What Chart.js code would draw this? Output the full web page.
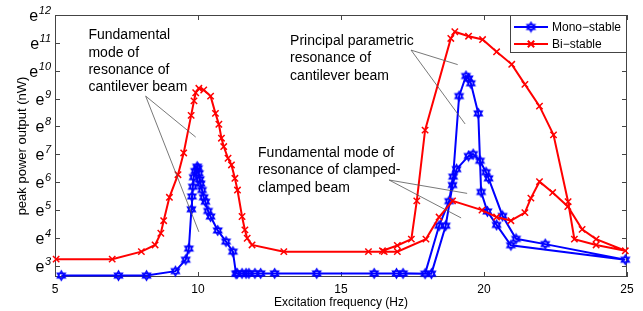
<!DOCTYPE html>
<html>
<head>
<meta charset="utf-8">
<script src="https://cdn.jsdelivr.net/npm/chart.js@4.4.0/dist/chart.umd.min.js"></script>
<style>
  body { margin: 0; background: #fff; }
</style>
</head>
<body>
<canvas id="myChart" width="643" height="311"></canvas>
<script>
// frequency (Hz) and peak power as exponent of e (nW), in sweep order
var mono_Freq = [5.22, 7.22, 8.2, 9.21, 9.57, 9.68, 9.77, 9.79, 9.82, 9.85, 9.9, 9.97, 10.0, 10.03, 10.06, 10.09,
  10.14, 10.2, 10.26, 10.35, 10.44, 10.69, 10.98, 11.22, 11.33, 11.37, 11.54, 11.68, 11.78, 11.99, 12.19, 12.68,
  14.15, 16.16, 16.94, 17.94, 18.43, 18.78, 18.92, 19.13, 19.37, 19.46, 19.54, 19.8, 19.9, 20.12, 20.44, 20.94,
  24.94, 22.14, 21.12, 20.65, 20.16, 20.07, 19.86, 19.62, 19.46, 19.04, 18.9, 18.66, 18.16, 17.17];
var mono_Pow = [2.65, 2.65, 2.65, 2.81, 3.22, 3.62, 5.03, 5.49, 5.84, 6.18, 6.4, 6.56, 6.5, 6.32, 6.1, 5.95,
  5.72, 5.46, 5.3, 4.97, 4.77, 4.27, 3.87, 3.51, 2.72, 2.73, 2.73, 2.73, 2.73, 2.73, 2.73, 2.73,
  2.73, 2.73, 2.73, 2.72, 4.44, 5.32, 6.2, 9.09, 9.81, 9.72, 9.55, 8.47, 5.65, 4.95, 4.47, 3.74,
  3.22, 3.78, 3.97, 4.79, 6.14, 6.36, 6.77, 7.01, 6.94, 6.47, 5.9, 4.44, 2.72, 2.73];

var bi_Freq = [5.04, 7.0, 8.02, 8.5, 8.7, 8.8, 9.0, 9.3, 9.5, 9.76, 9.86, 9.92, 10.03, 10.2, 10.44, 10.61,
  10.73, 10.82, 10.9, 11.05, 11.17, 11.29, 11.38, 11.54, 11.64, 11.72, 11.89, 13.0, 15.96, 16.51, 16.97, 17.97,
  18.43, 18.9, 19.93, 20.44, 20.94, 21.43, 21.64, 21.94, 22.4, 22.93, 23.43, 23.92, 24.94,
  23.92, 23.16, 22.94, 22.43, 21.94, 21.43, 20.97, 20.44, 19.95, 19.46, 18.98, 18.84, 17.94, 17.65, 17.46, 16.97, 16.45];
var bi_Pow = [3.24, 3.24, 3.51, 3.75, 4.17, 4.62, 5.46, 6.27, 7.05, 8.4, 8.92, 9.21, 9.37, 9.31, 9.09, 8.47,
  8.08, 7.58, 7.28, 6.86, 6.62, 6.14, 5.72, 4.77, 4.29, 3.99, 3.75, 3.51, 3.51, 3.51, 3.51, 3.96,
  4.75, 5.33, 5.0, 4.75, 4.62, 4.91, 5.43, 6.02, 5.63, 5.13, 4.31, 3.96, 3.54,
  3.75, 3.96, 5.3, 7.7, 8.73, 9.51, 10.23, 10.68, 11.12, 11.24, 11.4, 11.16, 7.87, 5.33, 3.96, 3.73, 3.54];

var xTicks = [5, 10, 15, 20, 25];
var yTicks = [3, 4, 5, 6, 7, 8, 9, 10, 11, 12];
var seriesNames = ['Mono\u2212stable', 'Bi\u2212stable'];

// callouts: text lines, text anchor and line ends in data units
var notes = [
  { text: ['Fundamental', 'mode of', 'resonance of', 'cantilever beam'], at: [6.17, 11.13],
    from: [8.17, 9.09], to: [[9.92, 7.62], [10.03, 4.22]] },
  { text: ['Principal parametric', 'resonance of', 'cantilever beam'], at: [13.22, 10.92],
    from: [17.45, 10.74], to: [[19.08, 10.22], [19.34, 8.09]] },
  { text: ['Fundamental mode of', 'resonance of clamped-', 'clamped beam'], at: [12.1, 6.9],
    from: [16.68, 6.08], to: [[19.41, 5.6], [19.2, 4.72]] }
];

function toPoints(xs, ys) {
  var out = [];
  for (var i = 0; i < xs.length; i++) out.push({ x: xs[i], y: ys[i] });
  return out;
}

// hexagram marker (two triangles)
function hexagram(color) {
  var c = document.createElement('canvas');
  c.width = 13; c.height = 13;
  var g = c.getContext('2d');
  g.strokeStyle = color;
  g.lineWidth = 1.4;
  var r = 4.6;
  for (var t = 0; t < 2; t++) {
    g.beginPath();
    for (var i = 0; i < 3; i++) {
      var a = -Math.PI / 2 + t * Math.PI + i * 2 * Math.PI / 3;
      var px = 6.5 + r * Math.cos(a), py = 6.5 + r * Math.sin(a);
      if (i == 0) g.moveTo(px, py); else g.lineTo(px, py);
    }
    g.closePath();
    g.stroke();
  }
  return c;
}
var hexMark = hexagram('#0000ff');

var FONT = '"Liberation Sans", Arial, sans-serif';

var framePlugin = {
  id: 'frame',
  beforeDatasetsDraw: function (chart) {
    var ctx = chart.ctx, a = chart.chartArea;
    var xs = chart.scales.x, ys = chart.scales.y;
    ctx.save();
    ctx.strokeStyle = '#444';
    ctx.lineWidth = 1;
    ctx.strokeRect(a.left + 0.5, a.top + 0.5, a.right - a.left - 1, a.bottom - a.top - 1);
    ctx.beginPath();
    xTicks.forEach(function (v) {
      var px = Math.round(xs.getPixelForValue(v)) + 0.5;
      ctx.moveTo(px, a.bottom); ctx.lineTo(px, a.bottom - 5);
      ctx.moveTo(px, a.top); ctx.lineTo(px, a.top + 5);
    });
    yTicks.forEach(function (v) {
      var py = Math.round(ys.getPixelForValue(v)) + 0.5;
      ctx.moveTo(a.left, py); ctx.lineTo(a.left + 5, py);
      ctx.moveTo(a.right, py); ctx.lineTo(a.right - 5, py);
    });
    ctx.stroke();
    ctx.restore();
  },
  afterDraw: function (chart) {
    var ctx = chart.ctx, a = chart.chartArea;
    var xs = chart.scales.x, ys = chart.scales.y;
    ctx.save();
    ctx.fillStyle = '#000';

    // x tick labels
    ctx.font = '12px ' + FONT;
    ctx.textAlign = 'center';
    ctx.textBaseline = 'alphabetic';
    xTicks.forEach(function (v) {
      ctx.fillText(String(v), xs.getPixelForValue(v), a.bottom + 16);
    });

    // y tick labels e^k
    ctx.textAlign = 'left';
    yTicks.forEach(function (v) {
      var py = ys.getPixelForValue(v);
      ctx.font = 'italic 11px ' + FONT;
      var ew = ctx.measureText(String(v)).width;
      ctx.fillText(String(v), a.left - 4 - ew, py - 1);
      ctx.font = '16px ' + FONT;
      var bw = ctx.measureText('e').width;
      ctx.fillText('e', a.left - 4 - ew - bw - 0.5, py + 6);
    });

    // axis titles
    ctx.font = '12px ' + FONT;
    ctx.textAlign = 'center';
    ctx.fillText('Excitation frequency (Hz)', (a.left + a.right) / 2, a.bottom + 29);
    ctx.save();
    ctx.translate(22, (a.top + a.bottom) / 2);
    ctx.rotate(-Math.PI / 2);
    ctx.font = '13px ' + FONT;
    ctx.textBaseline = 'middle';
    ctx.fillText('peak power output (nW)', 0, 0);
    ctx.restore();

    // callouts
    ctx.strokeStyle = '#555';
    ctx.lineWidth = 0.8;
    ctx.font = '14px ' + FONT;
    ctx.textAlign = 'left';
    ctx.textBaseline = 'alphabetic';
    notes.forEach(function (n) {
      var tx = xs.getPixelForValue(n.at[0]), ty = ys.getPixelForValue(n.at[1]);
      n.text.forEach(function (s, i) { ctx.fillText(s, tx, ty + i * 17.3); });
      var fx = xs.getPixelForValue(n.from[0]), fy = ys.getPixelForValue(n.from[1]);
      n.to.forEach(function (t) {
        ctx.beginPath();
        ctx.moveTo(fx, fy);
        ctx.lineTo(xs.getPixelForValue(t[0]), ys.getPixelForValue(t[1]));
        ctx.stroke();
      });
    });

    // legend box
    var lx = a.right - 117, ly = a.top;
    ctx.fillStyle = '#fff';
    ctx.fillRect(lx, ly, 117, 38);
    ctx.strokeStyle = '#444';
    ctx.lineWidth = 1;
    ctx.strokeRect(lx + 0.5, ly + 0.5, 116, 37);
    chart.data.datasets.forEach(function (ds, i) {
      var yy = ly + 12 + i * 17;
      ctx.strokeStyle = ds.borderColor;
      ctx.lineWidth = 2;
      ctx.beginPath();
      ctx.moveTo(lx + 4, yy); ctx.lineTo(lx + 38, yy);
      ctx.stroke();
      Chart.helpers.drawPoint(ctx, {
        pointStyle: ds.pointStyle, radius: ds.pointRadius, rotation: 0,
        borderWidth: ds.pointBorderWidth
      }, lx + 21, yy);
      ctx.fillStyle = '#000';
      ctx.font = '12px ' + FONT;
      ctx.textBaseline = 'middle';
      ctx.fillText(seriesNames[i], lx + 42, yy + 0.5);
    });
    ctx.restore();
  }
};

var ctx = document.getElementById('myChart').getContext('2d');
var myChart = new Chart(ctx, {
  type: 'line',
  data: {
    datasets: [{
      label: seriesNames[0],
      data: toPoints(mono_Freq, mono_Pow),
      borderColor: '#0000ff',
      backgroundColor: '#0000ff',
      borderWidth: 2,
      pointStyle: hexMark,
      pointRadius: 4.5,
      pointBorderWidth: 1.4,
      fill: false,
      tension: 0,
      clip: false,
      order: 1
    }, {
      label: seriesNames[1],
      data: toPoints(bi_Freq, bi_Pow),
      borderColor: '#ff0000',
      backgroundColor: '#ff0000',
      pointBorderColor: '#ff0000',
      borderWidth: 2,
      pointStyle: 'crossRot',
      pointRadius: 4.5,
      pointBorderWidth: 1.5,
      fill: false,
      tension: 0,
      clip: false,
      order: 0
    }]
  },
  options: {
    responsive: false,
    animation: false,
    devicePixelRatio: 1,
    layout: { padding: { top: 15, right: 16, left: 0, bottom: 0 } },
    plugins: { legend: { display: false }, tooltip: { enabled: false } },
    scales: {
      x: {
        type: 'linear', min: 5, max: 25,
        grid: { display: false }, border: { display: false }, ticks: { display: false },
        afterFit: function (s) { s.height = 34; }
      },
      y: {
        type: 'linear', min: 2.6, max: 12,
        grid: { display: false }, border: { display: false }, ticks: { display: false },
        afterFit: function (s) { s.width = 55; }
      }
    }
  },
  plugins: [framePlugin]
});
</script>
</body>
</html>
